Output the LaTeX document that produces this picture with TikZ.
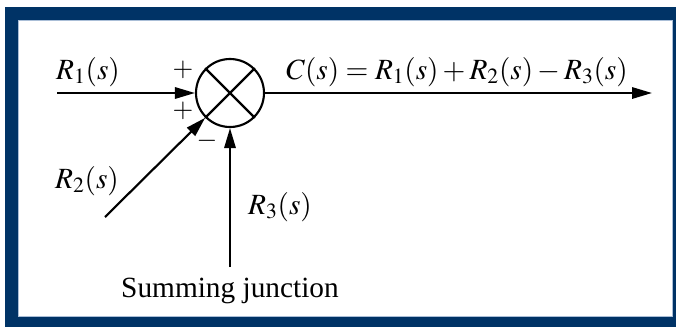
\documentclass[tikz,border=0pt]{standalone}
\usepackage{mathptmx}
\usepackage{fontspec}
\setmainfont{Liberation Serif}
\usetikzlibrary{arrows.meta, positioning, calc}
\definecolor{frameblue}{RGB}{0,51,102}
\definecolor{frameedge}{RGB}{170,190,215}
\tikzset{
  sumjunc/.style={circle,draw=black,line width=1.6pt,minimum size=51pt,inner sep=0pt},
  arrow/.style={-{Triangle[length=15pt,width=8.5pt]},line width=1.6pt},
  crossline/.style={line width=1.6pt},
  signal/.style={font=\fontsize{22}{26}\selectfont,inner sep=0pt},
  signmark/.style={font=\fontsize{20}{24}\selectfont,inner sep=0pt},
  caption/.style={font=\fontsize{22}{26}\selectfont,inner sep=0pt}
}
\begin{document}
\begin{tikzpicture}[x=0.75pt,y=-0.75pt]
  \useasboundingbox (0,0) rectangle (676,326);
  % frame
  \fill[frameblue] (5,7) rectangle (680,330);
  \fill[white] (18,20) rectangle (672,316);
  \draw[frameedge,line width=0.6pt] (18,20) rectangle (672,316);

  \node[sumjunc] (sum) at (230,93) {};
  \draw[crossline] (sum.45) -- (sum.225);
  \draw[crossline] (sum.135) -- (sum.315);

  \coordinate (in1) at (57,93);
  \coordinate (in2) at (105,217);
  \coordinate (in3) at (230,267);
  \coordinate (out) at (652,93);

  \draw[arrow] (in1) -- (sum.west);
  \draw[arrow] (in2) -- (sum.225);
  \draw[arrow] (in3) -- (sum.south);
  \draw[arrow] (sum.east) -- (out);

  \node[signal] (r1) at (88,72) {$R_1(s)$};
  \node[signal] (r2) at (87,181) {$R_2(s)$};
  \node[signal] (r3) at (280,207) {$R_3(s)$};
  \node[signal] (cs) at (457,72) {$C(s) = R_1(s) + R_2(s) - R_3(s)$};

  \node[signmark] (p1) at (183,70) {$+$};
  \node[signmark] (p2) at (183,111) {$+$};
  \node[signmark] (m3) at (207,141) {$-$};

  \node[caption, below=8pt of in3] (cap) {Summing junction};
\end{tikzpicture}
\end{document}
